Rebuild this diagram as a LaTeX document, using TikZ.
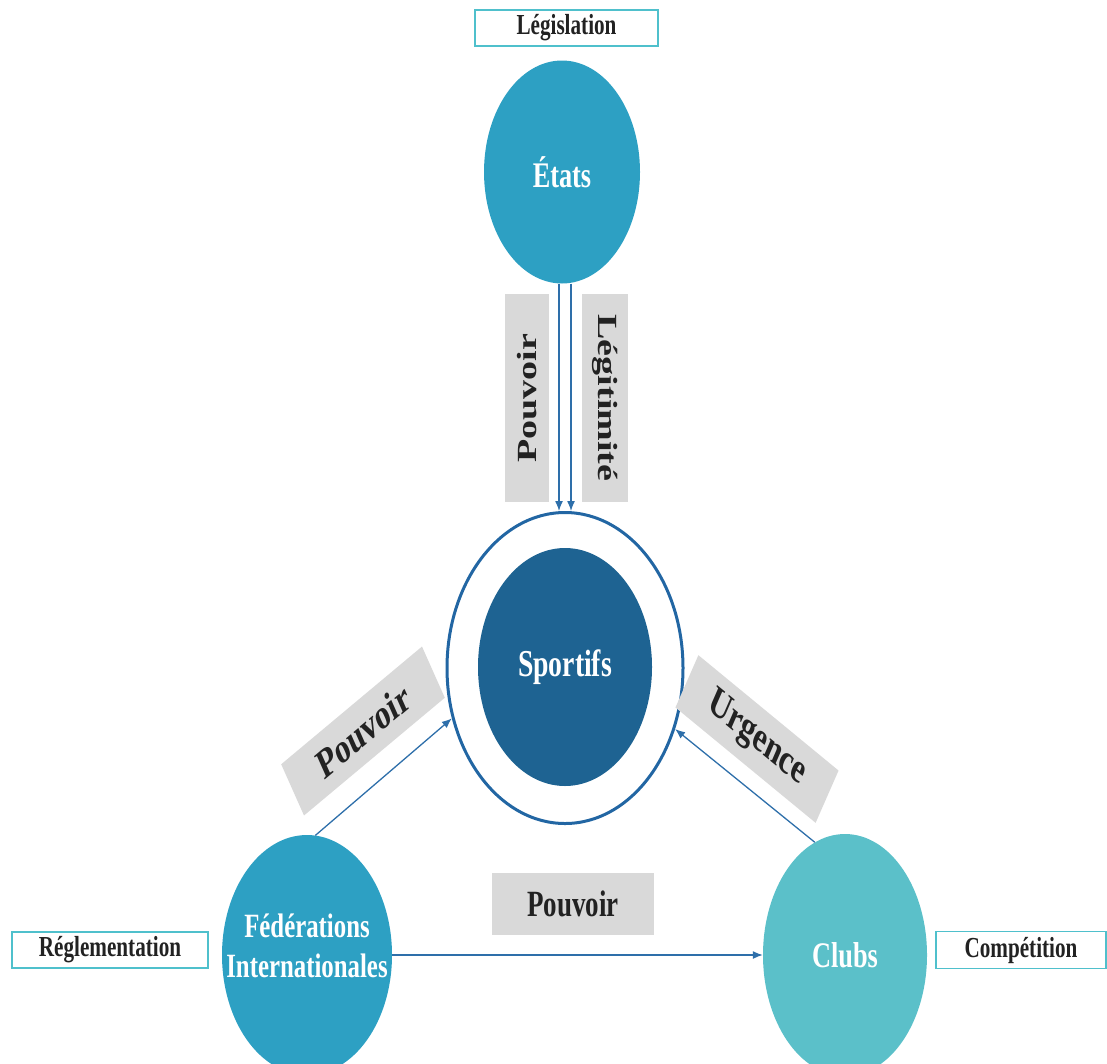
\documentclass[tikz,border=0pt]{standalone}
\usepackage{fontspec}
\setmainfont{Liberation Serif}
\usetikzlibrary{shapes.geometric,arrows.meta}
\definecolor{etatcol}{HTML}{2DA0C3}
\definecolor{clubcol}{HTML}{5BC0C9}
\definecolor{sportcol}{HTML}{1E6392}
\definecolor{ringcol}{HTML}{2266A3}
\definecolor{arrcol}{HTML}{2E6FAA}
\definecolor{graycol}{HTML}{D9D9D9}
\definecolor{boxcol}{HTML}{4FC0CC}
\definecolor{txtcol}{HTML}{222222}
\newcommand\squish[1]{\scalebox{0.73}[1]{#1}}
\begin{document}
\begin{tikzpicture}[x=1pt,y=-1pt,
  actor/.style={ellipse, inner sep=0pt, text=white},
  tagbox/.style={draw=boxcol, line width=1.2pt, fill=white, inner sep=0pt, text=txtcol, font=\bfseries\fontsize{29}{34}\selectfont},
  graybox/.style={fill=graycol, inner sep=0pt, text=txtcol, font=\bfseries\fontsize{38}{44}\selectfont},
  rotbox/.style={graybox, xscale=0.73, transform shape},
  arr/.style={draw=arrcol, line width=1.3pt, -{Latex[length=10pt,width=8pt]}}
]
\useasboundingbox (0,0) rectangle (1107,1063);
\clip (0,0) rectangle (1107,1063);

\node[tagbox, minimum width=183pt, minimum height=36pt] (leg) at (566.5,28) {\squish{Législation}};
\node[actor, fill=etatcol, minimum width=156pt, minimum height=223pt, font=\bfseries\fontsize{36}{40}\selectfont] (etats) at (562,172) {\squish{États}};

\node[ellipse, draw=ringcol, line width=3pt, minimum width=236pt, minimum height=311pt, inner sep=0pt] (ring) at (565,668) {};
\node[actor, fill=sportcol, minimum width=174pt, minimum height=238pt, font=\bfseries\fontsize{38}{42}\selectfont] (sport) at (565,667) {\squish{Sportifs}};

\node[actor, fill=etatcol, minimum width=170pt, minimum height=240pt] (fed) at (307,955) {};
\node[text=white, inner sep=0pt, font=\bfseries\fontsize{34}{40}\selectfont] (fedtxt) at (307,949) {\squish{\begin{tabular}{@{}c@{}}Fédérations\\Internationales\end{tabular}}};
\node[actor, fill=clubcol, minimum width=164pt, minimum height=242pt, font=\bfseries\fontsize{36}{40}\selectfont] (clubs) at (845,955) {\squish{Clubs}};

\node[graybox, minimum width=162pt, minimum height=62pt, font=\bfseries\fontsize{37}{42}\selectfont] (pouvH) at (573,904) {\squish{Pouvoir}};
\node[tagbox, minimum width=196pt, minimum height=36pt] (regl) at (110,950) {\squish{Réglementation}};
\node[tagbox, minimum width=170pt, minimum height=37pt] (comp) at (1021,950) {\squish{Compétition}};

\node[rotbox, rotate=90, minimum width=208pt, minimum height=60pt] (pouvV) at (527,398) {Pouvoir};
\node[rotbox, rotate=-90, minimum width=208pt, minimum height=63pt] (legit) at (605,398) {Légitimité};
\node[rotbox, rotate=31.4, minimum width=226pt, minimum height=60pt, font=\bfseries\fontsize{42}{46}\selectfont] (pouvD) at (363,731) {Pouvoir};
\node[rotbox, rotate=-31, minimum width=224pt, minimum height=61pt, font=\bfseries\fontsize{42}{46}\selectfont] (urg) at (757,739) {Urgence};

\coordinate (la) at ([xshift=-6pt]ring.north);
\coordinate (lb) at ([xshift=6pt]ring.north);
\draw[arr] (la |- etats.south) -- (la);
\draw[arr] (lb |- etats.south) -- (lb);
\draw[arr] (fed.86) -- (ring.204);
\draw[arr] (clubs.105) -- (ring.331);
\draw[arr] (fed.east) -- (clubs.west);
\end{tikzpicture}
\end{document}
